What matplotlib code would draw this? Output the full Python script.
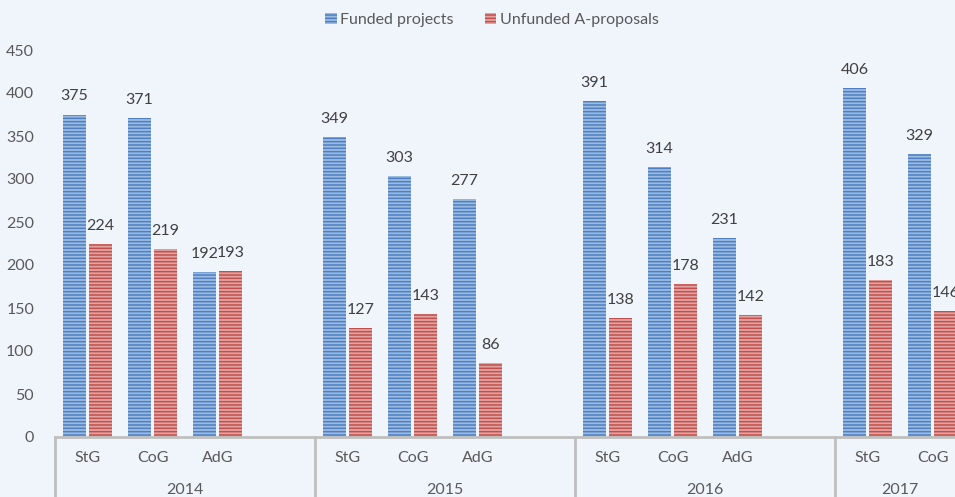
import matplotlib.pyplot as plt
import matplotlib.patches as mpatches
import numpy as np

plt.rcParams['font.family'] = ['Lato', 'DejaVu Sans']
plt.rcParams['hatch.linewidth'] = 1.1

years = ['2014', '2015', '2016', '2017']
calls = ['StG', 'CoG', 'AdG']
funded = {'2014': [375, 371, 192], '2015': [349, 303, 277],
          '2016': [391, 314, 231], '2017': [406, 329]}
unfunded = {'2014': [224, 219, 193], '2015': [127, 143, 86],
            '2016': [138, 178, 142], '2017': [183, 146]}

bg = '#F0F5FC'
blue_face, blue_hatch = '#9CBBE3', '#4F7FC0'
red_face, red_hatch = '#E3A3A2', '#C0504D'
txt = '#595959'

fig = plt.figure(figsize=(9.55, 4.97), dpi=100, facecolor=bg)
ax = fig.add_axes([55 / 955, 60 / 497, 900 / 955, 387 / 497], facecolor=bg)

w = 0.355
off = 0.2
for g, y in enumerate(years):
    for i, v in enumerate(funded[y]):
        x = g * 4 + i
        ax.bar(x - off, v, w, color=blue_face, edgecolor=blue_hatch, hatch='-----', linewidth=0)
        ax.annotate(str(v), (x - off, v), xytext=(0, 13), textcoords='offset points',
                    ha='center', va='center', fontsize=11.5, color='#404040')
        u = unfunded[y][i]
        ax.bar(x + off, u, w, color=red_face, edgecolor=red_hatch, hatch='-----', linewidth=0)
        ax.annotate(str(u), (x + off, u), xytext=(0, 13), textcoords='offset points',
                    ha='center', va='center', fontsize=11.5, color='#404040', annotation_clip=False)
        ax.text(x, -0.054, calls[i], transform=ax.get_xaxis_transform(),
                ha='center', va='center', fontsize=11.5, color=txt)
    # 2014-2016 groups span 4 slots, 2017 only 2
    nslots = 4 if len(funded[y]) == 3 else 2
    ax.text(g * 4 + (nslots - 1) / 2, -0.137, y, transform=ax.get_xaxis_transform(),
            ha='center', va='center', fontsize=11.5, color=txt)

trans = ax.get_xaxis_transform()
for sx in [-0.5, 3.5, 7.5, 11.5]:
    ax.plot([sx, sx], [0, -0.2], transform=trans, color='#BFBFBF', lw=2, clip_on=False)

ax.set_xlim(-0.5, 13.346)
ax.set_ylim(0, 450)
ax.set_yticks(range(0, 451, 50))
ax.set_xticks([])
ax.tick_params(axis='y', length=0, pad=15, labelsize=11.5, labelcolor=txt)
for s in ['left', 'right', 'top']:
    ax.spines[s].set_visible(False)
ax.spines['bottom'].set_color('#BFBFBF')
ax.spines['bottom'].set_linewidth(2)

handles = [mpatches.Patch(facecolor=blue_face, edgecolor=blue_hatch, hatch='-----', linewidth=0),
           mpatches.Patch(facecolor=red_face, edgecolor=red_hatch, hatch='-----', linewidth=0)]
fig.legend(handles, ['Funded projects', 'Unfunded A-proposals'], loc='center',
           bbox_to_anchor=(492 / 955, 1 - 20 / 497), ncol=2, frameon=False, fontsize=11.5,
           labelcolor=txt, handlelength=0.7, handleheight=0.7, handletextpad=0.2, columnspacing=2.0)

fig.savefig('out.png', dpi=100, facecolor=bg)
